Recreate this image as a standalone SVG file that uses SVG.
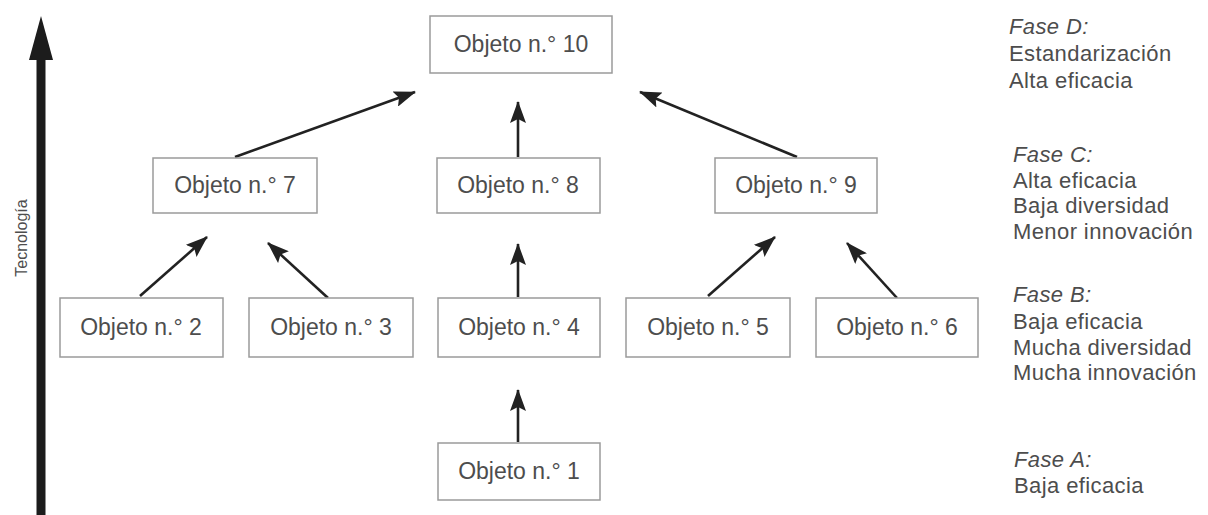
<svg xmlns="http://www.w3.org/2000/svg" width="1208" height="515" viewBox="0 0 1208 515">
<style>
  .box { fill: #ffffff; stroke: #9a9a9a; stroke-width: 1.5; }
  .nt { font-family: "Liberation Sans", Arial, sans-serif; font-size: 23px; fill: #4d4d4d; text-anchor: middle; }
  .ph { font-family: "Liberation Sans", Arial, sans-serif; font-size: 22px; letter-spacing: 0.4px; fill: #4d4d4d; }
  .it { font-style: italic; }
  .conn { stroke: #222222; stroke-width: 2.6; fill: none; marker-end: url(#ah); }
</style>
<defs>
  <marker id="ah" viewBox="0 0 22 16" refX="21" refY="8" markerWidth="22" markerHeight="16" markerUnits="userSpaceOnUse" orient="auto">
    <path d="M0,0 L22,8 L0,16 L4,8 Z" fill="#222222"/>
  </marker>
</defs>
<rect width="1208" height="515" fill="#ffffff"/>

<g id="axis">
  <rect x="36.5" y="56" width="9" height="459" fill="#1c1c1c"/>
  <path d="M41,16 L53,60 L29,60 Z" fill="#1c1c1c"/>
  <text x="0" y="0" transform="translate(27,238) rotate(-90)" font-family="'Liberation Sans', Arial, sans-serif" font-size="16" fill="#4d4d4d" text-anchor="middle">Tecnología</text>
</g>

<g id="connectors">
  <line class="conn" x1="518" y1="442" x2="518" y2="390"/>
  <line class="conn" x1="518" y1="297" x2="518" y2="244"/>
  <line class="conn" x1="518" y1="157" x2="518" y2="102"/>
  <line class="conn" x1="235" y1="157" x2="415" y2="92"/>
  <line class="conn" x1="797" y1="157" x2="640" y2="92"/>
  <line class="conn" x1="140" y1="296" x2="207" y2="237"/>
  <line class="conn" x1="328" y1="298" x2="268" y2="243"/>
  <line class="conn" x1="708" y1="296" x2="775" y2="237"/>
  <line class="conn" x1="897" y1="298" x2="847" y2="243"/>
</g>

<g id="n10"><rect class="box" x="430" y="16" width="182" height="57"/><text class="nt" x="521" y="52">Objeto n.° 10</text></g>
<g id="n7"><rect class="box" x="153" y="158" width="164" height="55"/><text class="nt" x="235" y="193">Objeto n.° 7</text></g>
<g id="n8"><rect class="box" x="437" y="158" width="163" height="55"/><text class="nt" x="518" y="193">Objeto n.° 8</text></g>
<g id="n9"><rect class="box" x="715" y="158" width="162" height="55"/><text class="nt" x="796" y="193">Objeto n.° 9</text></g>
<g id="n2"><rect class="box" x="60" y="298" width="163" height="59"/><text class="nt" x="141" y="335">Objeto n.° 2</text></g>
<g id="n3"><rect class="box" x="249" y="298" width="164" height="59"/><text class="nt" x="331" y="335">Objeto n.° 3</text></g>
<g id="n4"><rect class="box" x="438" y="298" width="162" height="59"/><text class="nt" x="519" y="335">Objeto n.° 4</text></g>
<g id="n5"><rect class="box" x="626" y="298" width="164" height="59"/><text class="nt" x="708" y="335">Objeto n.° 5</text></g>
<g id="n6"><rect class="box" x="816" y="298" width="162" height="59"/><text class="nt" x="897" y="335">Objeto n.° 6</text></g>
<g id="n1"><rect class="box" x="438" y="443" width="162" height="57"/><text class="nt" x="519" y="479">Objeto n.° 1</text></g>

<g id="phaseD">
  <text class="ph it" x="1009" y="34">Fase D:</text>
  <text class="ph" x="1009" y="61">Estandarización</text>
  <text class="ph" x="1009" y="88">Alta eficacia</text>
</g>
<g id="phaseC">
  <text class="ph it" x="1013" y="162">Fase C:</text>
  <text class="ph" x="1013" y="188">Alta eficacia</text>
  <text class="ph" x="1013" y="213">Baja diversidad</text>
  <text class="ph" x="1013" y="239">Menor innovación</text>
</g>
<g id="phaseB">
  <text class="ph it" x="1013" y="302">Fase B:</text>
  <text class="ph" x="1013" y="329">Baja eficacia</text>
  <text class="ph" x="1013" y="355">Mucha diversidad</text>
  <text class="ph" x="1013" y="380">Mucha innovación</text>
</g>
<g id="phaseA">
  <text class="ph it" x="1014" y="467">Fase A:</text>
  <text class="ph" x="1014" y="493">Baja eficacia</text>
</g>
</svg>
